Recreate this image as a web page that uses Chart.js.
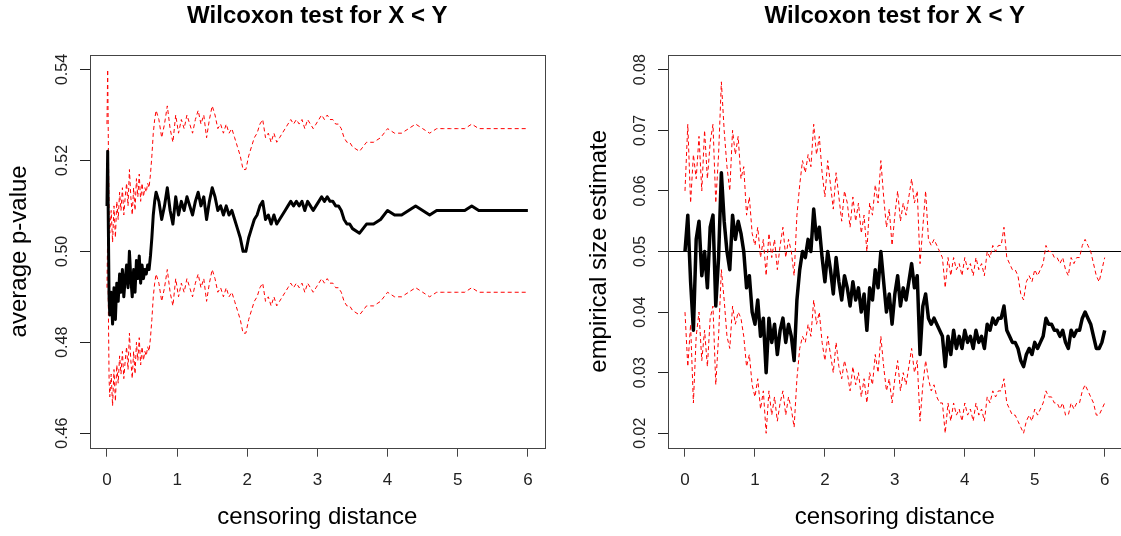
<!DOCTYPE html>
<html>
<head>
<meta charset="utf-8">
<title>Wilcoxon test for X &lt; Y</title>
<script src="https://cdn.jsdelivr.net/npm/chart.js@4.4.1/dist/chart.umd.min.js"></script>
<style>
  html, body { margin: 0; padding: 0; background: #fff; overflow: hidden; }
  #wrap { position: relative; width: 1121px; height: 536px; overflow: hidden; }
  canvas { position: absolute; top: 0; }
</style>
</head>
<body>
<div id="wrap">
  <canvas id="pvalChart" width="560" height="536" style="left:0px"></canvas>
  <canvas id="sizeChart" width="575" height="536" style="left:560px"></canvas>
</div>
<script>
// ---- shared axis settings ----
const chartTitle = 'Wilcoxon test for X < Y';
const xAxisTitle = 'censoring distance';
const xTickValues = [0, 1, 2, 3, 4, 5, 6];

// ---- left panel: average p-value ----
const leftYTitle = 'average p-value';
const leftYTicks = [0.46, 0.48, 0.50, 0.52, 0.54];
const leftYTickLabels = ['0.46', '0.48', '0.50', '0.52', '0.54'];

const leftDistance = [
  0, 0.01, 0.02, 0.03,
  0.04, 0.06, 0.08, 0.10, 0.12, 0.14, 0.16, 0.18, 0.20, 0.22,
  0.24, 0.26, 0.28, 0.30, 0.32, 0.34, 0.36, 0.38, 0.40, 0.42,
  0.44, 0.46, 0.48, 0.50, 0.52, 0.54, 0.56, 0.58, 0.60, 0.62,
  0.64, 0.66, 0.68, 0.70,
  0.74, 0.78, 0.82, 0.86, 0.90, 0.94, 0.98, 1.02, 1.06, 1.10,
  1.14, 1.18, 1.22, 1.26, 1.30, 1.34, 1.38, 1.42, 1.46, 1.50,
  1.54, 1.58, 1.62, 1.66, 1.70, 1.74, 1.78, 1.82, 1.86, 1.90,
  1.94, 1.98, 2.02, 2.06, 2.10, 2.14, 2.18, 2.22, 2.26, 2.30,
  2.34, 2.38, 2.42, 2.46, 2.50, 2.54, 2.58, 2.62, 2.66, 2.70,
  2.74, 2.78, 2.82, 2.86, 2.90, 2.94, 2.98, 3.02, 3.06, 3.10,
  3.14, 3.18, 3.22, 3.26, 3.30, 3.34, 3.38, 3.42, 3.46, 3.50,
  3.6, 3.7, 3.8, 3.9, 4.0, 4.1, 4.2, 4.3, 4.4, 4.5, 4.6, 4.7, 4.8,
  4.9, 5.0, 5.1, 5.2, 5.3, 5.4, 5.5, 5.6, 5.7, 5.8, 5.9, 6.0
];

const leftMean = [
  0.510, 0.522, 0.505, 0.490,
  0.486, 0.491, 0.484, 0.492, 0.485, 0.493, 0.489, 0.495, 0.491, 0.496,
  0.490, 0.494, 0.497, 0.492, 0.500, 0.494, 0.490, 0.496, 0.491, 0.498,
  0.494, 0.499, 0.493, 0.497, 0.494, 0.496, 0.495, 0.497, 0.496, 0.499,
  0.503, 0.508, 0.511, 0.513,
  0.511, 0.507, 0.510, 0.514, 0.509, 0.506, 0.512, 0.508, 0.511, 0.509,
  0.512, 0.510, 0.508, 0.511, 0.513, 0.510, 0.512, 0.507, 0.511, 0.514,
  0.512, 0.509, 0.510, 0.508, 0.510, 0.508, 0.509, 0.507, 0.505, 0.503,
  0.500, 0.500, 0.503, 0.505, 0.507, 0.508, 0.510, 0.511, 0.507, 0.508,
  0.506, 0.508, 0.506, 0.507, 0.508, 0.509, 0.510, 0.511, 0.510, 0.511,
  0.510, 0.511, 0.509, 0.511, 0.510, 0.509, 0.510, 0.511, 0.512, 0.511,
  0.512, 0.511, 0.511, 0.510, 0.510, 0.509, 0.507, 0.506, 0.506, 0.505,
  0.504, 0.506, 0.506, 0.507, 0.509, 0.508, 0.508, 0.509, 0.510, 0.509, 0.508, 0.509, 0.509,
  0.509, 0.509, 0.509, 0.510, 0.509, 0.509, 0.509, 0.509, 0.509, 0.509, 0.509, 0.509
];

const leftUpper = [
  0.528, 0.540, 0.523, 0.508,
  0.504, 0.509, 0.502, 0.510, 0.503, 0.511, 0.507, 0.513, 0.509, 0.514,
  0.508, 0.512, 0.515, 0.510, 0.518, 0.512, 0.508, 0.514, 0.509, 0.516,
  0.512, 0.517, 0.511, 0.515, 0.512, 0.514, 0.513, 0.515, 0.514, 0.517,
  0.521, 0.526, 0.529, 0.531,
  0.529, 0.525, 0.528, 0.532, 0.527, 0.524, 0.530, 0.526, 0.529, 0.527,
  0.530, 0.528, 0.526, 0.529, 0.531, 0.528, 0.530, 0.525, 0.529, 0.532,
  0.530, 0.527, 0.528, 0.526, 0.528, 0.526, 0.527, 0.525, 0.523, 0.521,
  0.518, 0.518, 0.521, 0.523, 0.525, 0.526, 0.528, 0.529, 0.525, 0.526,
  0.524, 0.526, 0.524, 0.525, 0.526, 0.527, 0.528, 0.529, 0.528, 0.529,
  0.528, 0.529, 0.527, 0.529, 0.528, 0.527, 0.528, 0.529, 0.530, 0.529,
  0.530, 0.529, 0.529, 0.528, 0.528, 0.527, 0.525, 0.524, 0.524, 0.523,
  0.522, 0.524, 0.524, 0.525, 0.527, 0.526, 0.526, 0.527, 0.528, 0.527, 0.526, 0.527, 0.527,
  0.527, 0.527, 0.527, 0.528, 0.527, 0.527, 0.527, 0.527, 0.527, 0.527, 0.527, 0.527
];

const leftLower = [
  0.492, 0.504, 0.487, 0.472,
  0.468, 0.473, 0.466, 0.474, 0.467, 0.475, 0.471, 0.477, 0.473, 0.478,
  0.472, 0.476, 0.479, 0.474, 0.482, 0.476, 0.472, 0.478, 0.473, 0.480,
  0.476, 0.481, 0.475, 0.479, 0.476, 0.478, 0.477, 0.479, 0.478, 0.481,
  0.485, 0.490, 0.493, 0.495,
  0.493, 0.489, 0.492, 0.496, 0.491, 0.488, 0.494, 0.490, 0.493, 0.491,
  0.494, 0.492, 0.490, 0.493, 0.495, 0.492, 0.494, 0.489, 0.493, 0.496,
  0.494, 0.491, 0.492, 0.490, 0.492, 0.490, 0.491, 0.489, 0.487, 0.485,
  0.482, 0.482, 0.485, 0.487, 0.489, 0.490, 0.492, 0.493, 0.489, 0.490,
  0.488, 0.490, 0.488, 0.489, 0.490, 0.491, 0.492, 0.493, 0.492, 0.493,
  0.492, 0.493, 0.491, 0.493, 0.492, 0.491, 0.492, 0.493, 0.494, 0.493,
  0.494, 0.493, 0.493, 0.492, 0.492, 0.491, 0.489, 0.488, 0.488, 0.487,
  0.486, 0.488, 0.488, 0.489, 0.491, 0.490, 0.490, 0.491, 0.492, 0.491, 0.490, 0.491, 0.491,
  0.491, 0.491, 0.491, 0.492, 0.491, 0.491, 0.491, 0.491, 0.491, 0.491, 0.491, 0.491
];

// ---- right panel: empirical size estimate ----
const rightYTitle = 'empirical size estimate';
const rightYTicks = [0.02, 0.03, 0.04, 0.05, 0.06, 0.07, 0.08];
const rightYTickLabels = ['0.02', '0.03', '0.04', '0.05', '0.06', '0.07', '0.08'];
const nominalLevel = 0.05;

const rightDistance = [
  0, 0.04, 0.08, 0.12, 0.16, 0.2, 0.24, 0.28, 0.32, 0.36, 0.4, 0.44, 0.48, 0.52, 0.56, 0.6, 0.64, 0.68, 0.72, 0.76, 0.8, 0.84, 0.88, 0.92, 0.96,
  1, 1.04, 1.08, 1.12, 1.16, 1.2, 1.24, 1.28, 1.32, 1.36, 1.4, 1.44, 1.48, 1.52, 1.56, 1.6, 1.64, 1.68, 1.72, 1.76, 1.8, 1.84, 1.88, 1.92, 1.96,
  2, 2.04, 2.08, 2.12, 2.16, 2.2, 2.24, 2.28, 2.32, 2.36, 2.4, 2.44, 2.48, 2.52, 2.56, 2.6, 2.64, 2.68, 2.72, 2.76, 2.8, 2.84, 2.88, 2.92, 2.96,
  3, 3.04, 3.08, 3.12, 3.16, 3.2, 3.24, 3.28, 3.32, 3.36, 3.4, 3.44, 3.48, 3.52, 3.56, 3.6, 3.64, 3.68, 3.72, 3.76, 3.8, 3.84, 3.88, 3.92, 3.96,
  4, 4.04, 4.08, 4.12, 4.16, 4.2, 4.24, 4.28, 4.32, 4.36, 4.4, 4.44, 4.48, 4.52, 4.56, 4.6, 4.64, 4.68, 4.72, 4.76, 4.8, 4.84, 4.88, 4.92, 4.96,
  5, 5.04, 5.08, 5.12, 5.16, 5.2, 5.24, 5.28, 5.32, 5.36, 5.4, 5.44, 5.48, 5.52, 5.56, 5.6, 5.64, 5.68, 5.72, 5.76, 5.8, 5.84, 5.88, 5.92, 5.96, 6
];

const rightMean = [
  0.050, 0.056, 0.045, 0.037, 0.052, 0.055, 0.046, 0.050, 0.044, 0.054, 0.056, 0.041, 0.049, 0.063, 0.055, 0.050, 0.047, 0.056, 0.052, 0.055, 0.053, 0.050, 0.044, 0.046, 0.040,
  0.038, 0.042, 0.036, 0.039, 0.030, 0.039, 0.035, 0.038, 0.033, 0.037, 0.039, 0.035, 0.038, 0.036, 0.032, 0.042, 0.047, 0.050, 0.049, 0.052, 0.050, 0.057, 0.052, 0.054, 0.049,
  0.045, 0.050, 0.047, 0.043, 0.049, 0.045, 0.042, 0.046, 0.044, 0.041, 0.045, 0.042, 0.044, 0.040, 0.043, 0.037, 0.044, 0.042, 0.047, 0.044, 0.050, 0.045, 0.040, 0.043, 0.038,
  0.043, 0.046, 0.041, 0.044, 0.042, 0.045, 0.048, 0.044, 0.046, 0.033, 0.041, 0.043, 0.039, 0.038, 0.039, 0.038, 0.037, 0.036, 0.031, 0.036, 0.033, 0.037, 0.034, 0.036, 0.034,
  0.037, 0.035, 0.036, 0.034, 0.037, 0.035, 0.036, 0.034, 0.038, 0.037, 0.039, 0.038, 0.039, 0.039, 0.041, 0.037, 0.036, 0.035, 0.035, 0.034, 0.032, 0.031, 0.033, 0.034, 0.033,
  0.035, 0.034, 0.035, 0.036, 0.039, 0.038, 0.038, 0.037, 0.037, 0.036, 0.037, 0.035, 0.034, 0.037, 0.036, 0.037, 0.037, 0.039, 0.040, 0.039, 0.038, 0.036, 0.034, 0.034, 0.035, 0.037
];

const rightUpper = [
  0.060, 0.071, 0.058, 0.066, 0.062, 0.069, 0.060, 0.070, 0.062, 0.068, 0.071, 0.058, 0.066, 0.078, 0.070, 0.064, 0.060, 0.070, 0.066, 0.069, 0.062, 0.064, 0.056, 0.059, 0.053,
  0.051, 0.054, 0.049, 0.052, 0.046, 0.053, 0.049, 0.052, 0.047, 0.051, 0.054, 0.049, 0.052, 0.050, 0.046, 0.056, 0.061, 0.065, 0.063, 0.066, 0.064, 0.071, 0.066, 0.069, 0.063,
  0.059, 0.065, 0.061, 0.057, 0.063, 0.059, 0.055, 0.060, 0.058, 0.054, 0.059, 0.055, 0.058, 0.053, 0.056, 0.050, 0.058, 0.056, 0.061, 0.058, 0.065, 0.059, 0.054, 0.057, 0.051,
  0.056, 0.060, 0.055, 0.058, 0.056, 0.059, 0.062, 0.058, 0.060, 0.048, 0.054, 0.060, 0.052, 0.051, 0.052, 0.051, 0.050, 0.049, 0.044, 0.049, 0.046, 0.049, 0.047, 0.048, 0.046,
  0.049, 0.047, 0.048, 0.046, 0.049, 0.047, 0.048, 0.046, 0.050, 0.049, 0.051, 0.050, 0.051, 0.051, 0.054, 0.049, 0.048, 0.047, 0.047, 0.046, 0.043, 0.042, 0.045, 0.046, 0.045,
  0.047, 0.046, 0.047, 0.048, 0.051, 0.050, 0.050, 0.049, 0.049, 0.048, 0.049, 0.047, 0.046, 0.049, 0.048, 0.049, 0.049, 0.051, 0.052, 0.051, 0.050, 0.048, 0.046, 0.045, 0.047, 0.049
];

const rightLower = [
  0.040, 0.031, 0.038, 0.025, 0.036, 0.040, 0.032, 0.037, 0.031, 0.039, 0.041, 0.028, 0.036, 0.047, 0.042, 0.036, 0.034, 0.041, 0.038, 0.040, 0.039, 0.036, 0.031, 0.033, 0.028,
  0.026, 0.029, 0.024, 0.027, 0.020, 0.027, 0.023, 0.026, 0.022, 0.025, 0.027, 0.023, 0.026, 0.024, 0.021, 0.029, 0.034, 0.036, 0.035, 0.038, 0.036, 0.042, 0.038, 0.040, 0.035,
  0.032, 0.036, 0.033, 0.030, 0.035, 0.031, 0.029, 0.032, 0.030, 0.027, 0.031, 0.028, 0.030, 0.026, 0.029, 0.025, 0.030, 0.028, 0.033, 0.030, 0.036, 0.031, 0.027, 0.029, 0.025,
  0.029, 0.032, 0.027, 0.030, 0.028, 0.031, 0.034, 0.030, 0.032, 0.022, 0.028, 0.032, 0.029, 0.027, 0.028, 0.026, 0.025, 0.025, 0.020, 0.025, 0.022, 0.025, 0.023, 0.024, 0.022,
  0.025, 0.023, 0.024, 0.022, 0.025, 0.023, 0.024, 0.022, 0.026, 0.025, 0.027, 0.026, 0.027, 0.027, 0.029, 0.025, 0.024, 0.023, 0.023, 0.022, 0.021, 0.020, 0.022, 0.023, 0.022,
  0.024, 0.023, 0.024, 0.025, 0.027, 0.026, 0.026, 0.025, 0.025, 0.024, 0.025, 0.023, 0.023, 0.025, 0.024, 0.025, 0.025, 0.027, 0.028, 0.027, 0.026, 0.025, 0.023, 0.023, 0.024, 0.025
];

// ---- drawing ----
const FONT = '"Liberation Sans", Arial, Helvetica, sans-serif';

// R-style frame: box, title, axis titles and rotated y tick labels
const rFrame = {
  id: 'rFrame',
  afterDraw(chart, args, opts) {
    const { ctx, chartArea: a } = chart;
    const yScale = chart.scales.y;
    const midX = (a.left + a.right) / 2;
    ctx.save();
    ctx.strokeStyle = '#444';
    ctx.lineWidth = 1;
    ctx.strokeRect(Math.round(a.left) + 0.5, Math.round(a.top) + 0.5,
      Math.round(a.right - a.left), Math.round(a.bottom - a.top));

    ctx.fillStyle = '#000';
    ctx.textAlign = 'center';
    ctx.textBaseline = 'middle';
    ctx.font = 'bold 24px ' + FONT;
    ctx.fillText(opts.title, midX, 16);

    ctx.font = '24px ' + FONT;
    ctx.fillText(opts.xTitle, midX, 517);

    ctx.save();
    ctx.translate(opts.yTitleX, (a.top + a.bottom) / 2);
    ctx.rotate(-Math.PI / 2);
    ctx.fillText(opts.yTitle, 0, 0);
    ctx.restore();

    ctx.font = '16px ' + FONT;
    ctx.fillStyle = '#222';
    opts.yTicks.forEach((v, i) => {
      const py = yScale.getPixelForValue(v);
      ctx.save();
      ctx.translate(opts.yTickX, py);
      ctx.rotate(-Math.PI / 2);
      ctx.fillText(opts.yTickLabels[i], 0, 0);
      ctx.restore();
    });
    ctx.restore();
  }
};

function pairs(xs, ys) {
  return xs.map((x, i) => ({ x: x, y: ys[i] }));
}

function makePanel(id, p) {
  const datasets = [
    { data: pairs(p.x, p.mean), borderColor: '#000', borderWidth: p.meanWidth },
    { data: pairs(p.x, p.upper), borderColor: '#ff0000', borderWidth: 1, borderDash: [4, 3] },
    { data: pairs(p.x, p.lower), borderColor: '#ff0000', borderWidth: 1, borderDash: [4, 3] }
  ];
  if (p.refLevel !== undefined) {
    datasets.push({
      data: [{ x: p.xMin, y: p.refLevel }, { x: p.xMax, y: p.refLevel }],
      borderColor: '#000', borderWidth: 1
    });
  }
  datasets.forEach(d => {
    d.pointRadius = 0;
    d.tension = 0;
    d.fill = false;
    d.borderJoinStyle = 'round';
  });

  return new Chart(document.getElementById(id), {
    type: 'line',
    data: { datasets },
    options: {
      responsive: false,
      animation: false,
      events: [],
      layout: { padding: { top: 55, right: p.padRight, left: 0, bottom: 0 } },
      plugins: {
        legend: { display: false },
        tooltip: { enabled: false },
        title: { display: false },
        rFrame: {
          title: chartTitle,
          xTitle: xAxisTitle,
          yTitle: p.yTitle,
          yTitleX: p.yTitleX,
          yTicks: p.yTicks,
          yTickLabels: p.yTickLabels,
          yTickX: p.yTickX
        }
      },
      scales: {
        x: {
          type: 'linear',
          min: p.xMin,
          max: p.xMax,
          afterBuildTicks: ax => { ax.ticks = xTickValues.map(v => ({ value: v })); },
          afterFit: s => { s.height = 88.3; },
          border: { display: false },
          grid: { drawOnChartArea: false, drawTicks: true, tickLength: 9, color: '#444' },
          ticks: { padding: 13, color: '#222', font: { family: FONT, size: 17 }, maxRotation: 0, autoSkip: false }
        },
        y: {
          type: 'linear',
          min: p.yMin,
          max: p.yMax,
          afterBuildTicks: ax => { ax.ticks = p.yTicks.map(v => ({ value: v })); },
          afterFit: s => { s.width = p.left; },
          border: { display: false },
          grid: { drawOnChartArea: false, drawTicks: true, tickLength: 10, color: '#222' },
          ticks: { display: false }
        }
      }
    },
    plugins: [rFrame]
  });
}

makePanel('pvalChart', {
  x: leftDistance, mean: leftMean, upper: leftUpper, lower: leftLower,
  xMin: -0.242, xMax: 6.24, yMin: 0.4568, yMax: 0.5432,
  yTicks: leftYTicks, yTickLabels: leftYTickLabels, yTitle: leftYTitle,
  left: 90, padRight: 15.3, yTitleX: 19, yTickX: 63, meanWidth: 3
});

makePanel('sizeChart', {
  x: rightDistance, mean: rightMean, upper: rightUpper, lower: rightLower,
  refLevel: nominalLevel,
  xMin: -0.243, xMax: 6.243, yMin: 0.01762, yMax: 0.08243,
  yTicks: rightYTicks, yTickLabels: rightYTickLabels, yTitle: rightYTitle,
  left: 108, padRight: 13.3, yTitleX: 39, yTickX: 81, meanWidth: 3.5
});
</script>
</body>
</html>
